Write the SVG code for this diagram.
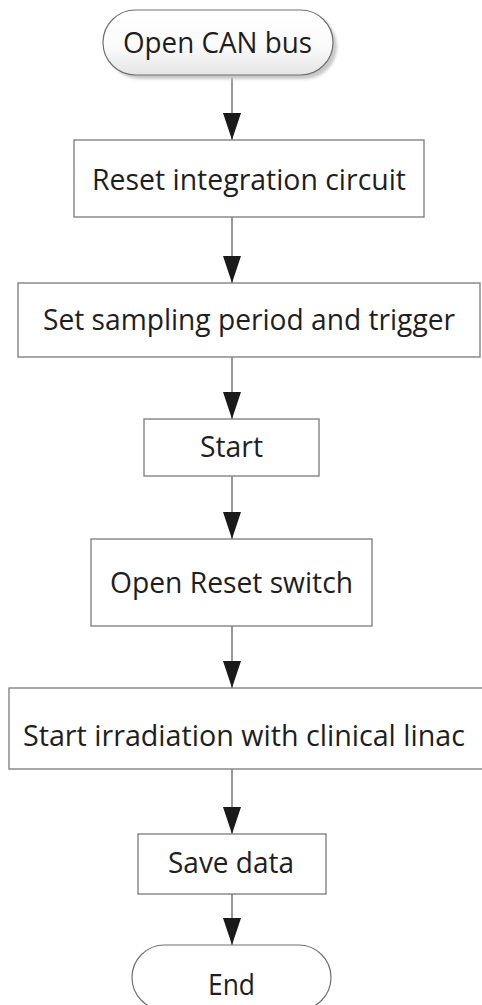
<svg xmlns="http://www.w3.org/2000/svg" width="482" height="1005" viewBox="0 0 482 1005">
  <defs>
    <linearGradient id="termFill" x1="0" y1="0" x2="0" y2="1">
      <stop offset="0" stop-color="#ffffff"/>
      <stop offset="0.55" stop-color="#fbfbfb"/>
      <stop offset="1" stop-color="#e4e4e4"/>
    </linearGradient>
    <filter id="soft" x="-10%" y="-20%" width="130%" height="160%">
      <feGaussianBlur stdDeviation="1.5"/>
    </filter>
    <marker id="arrow" viewBox="0 0 27 18" refX="27" refY="9" markerWidth="27" markerHeight="18" markerUnits="userSpaceOnUse" orient="auto">
      <path d="M0,0 L27,9 L0,18 Z" fill="#1a1a1a"/>
    </marker>
  </defs>
  <style>
    .box { fill: #ffffff; stroke: #7a7a7a; stroke-width: 1.3; }
    .term { stroke: #707070; stroke-width: 1.2; }
    .lbl { font-family: "Open Sans", "Noto Sans", "Liberation Sans", sans-serif; font-size: 29px; fill: #1e1e1e; text-anchor: middle; }
    .conn { stroke: #555555; stroke-width: 1.2; fill: none; marker-end: url(#arrow); }
  </style>

  <rect width="482" height="1005" fill="#ffffff"/>

  <!-- connectors -->
  <g id="connectors">
    <line class="conn" x1="232" y1="75" x2="232" y2="140"/>
    <line class="conn" x1="232" y1="217" x2="232" y2="283"/>
    <line class="conn" x1="232" y1="357" x2="232" y2="419"/>
    <line class="conn" x1="232" y1="476" x2="232" y2="539"/>
    <line class="conn" x1="232" y1="626" x2="232" y2="688"/>
    <line class="conn" x1="232" y1="769" x2="232" y2="834"/>
    <line class="conn" x1="232" y1="894" x2="232" y2="945"/>
  </g>

  <!-- start terminator -->
  <g id="open-can-bus">
    <rect x="107" y="14" width="230" height="65" rx="32.5" fill="#c8c8c8" filter="url(#soft)"/>
    <rect class="term" x="103" y="10" width="230" height="65" rx="32.5" fill="url(#termFill)"/>
    <text class="lbl" x="217.5" y="53" textLength="189" lengthAdjust="spacingAndGlyphs">Open CAN bus</text>
  </g>

  <g id="reset-integration">
    <rect class="box" x="74" y="140" width="350" height="77"/>
    <text class="lbl" x="249" y="190" textLength="314" lengthAdjust="spacingAndGlyphs">Reset integration circuit</text>
  </g>

  <g id="set-sampling">
    <rect class="box" x="18" y="283" width="462" height="74"/>
    <text class="lbl" x="249" y="330" textLength="412" lengthAdjust="spacingAndGlyphs">Set sampling period and trigger</text>
  </g>

  <g id="start">
    <rect class="box" x="144" y="419" width="175" height="57"/>
    <text class="lbl" x="231.5" y="457" textLength="63" lengthAdjust="spacingAndGlyphs">Start</text>
  </g>

  <g id="open-reset-switch">
    <rect class="box" x="91" y="539" width="281" height="87"/>
    <text class="lbl" x="231.5" y="593" textLength="243" lengthAdjust="spacingAndGlyphs">Open Reset switch</text>
  </g>

  <g id="start-irradiation">
    <rect class="box" x="9" y="688" width="480" height="81"/>
    <text class="lbl" x="244" y="746" textLength="442" lengthAdjust="spacingAndGlyphs">Start irradiation with clinical linac</text>
  </g>

  <g id="save-data">
    <rect class="box" x="138" y="834" width="188" height="60"/>
    <text class="lbl" x="231" y="873" textLength="126" lengthAdjust="spacingAndGlyphs">Save data</text>
  </g>

  <!-- end terminator -->
  <g id="end">
    <rect class="term" x="132" y="945" width="199" height="65" rx="32.5" fill="#ffffff"/>
    <text class="lbl" x="231.5" y="995" textLength="47" lengthAdjust="spacingAndGlyphs">End</text>
  </g>
</svg>
